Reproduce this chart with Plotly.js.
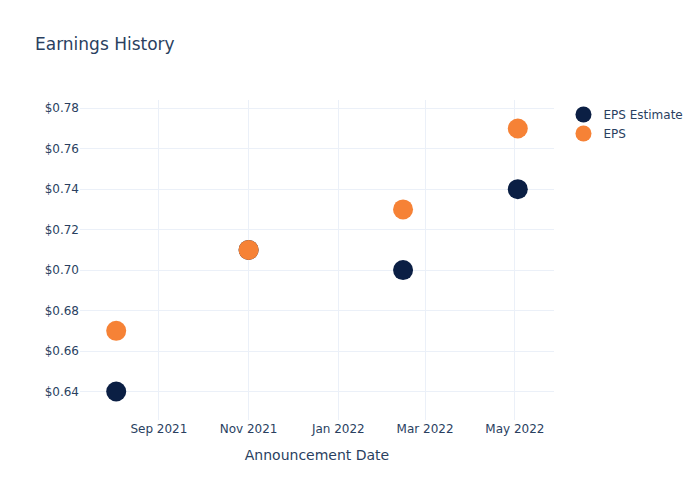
<!DOCTYPE html>
<html>
<head>
<meta charset="utf-8">
<script src="https://cdn.plot.ly/plotly-3.0.1.min.js"></script>
<style>html,body{margin:0;padding:0;}#chart{width:700px;height:500px;}</style>
</head>
<body>
<div id="chart"></div>
<script>
const dates = ["2021-08-03", "2021-11-01", "2022-02-14", "2022-05-03"];
const epsEstimate = [0.64, 0.71, 0.70, 0.74];
const epsActual = [0.67, 0.71, 0.73, 0.77];
const seriesNames = ["EPS Estimate", "EPS"];
const seriesColors = ["#0b1f44", "#f68236"];

const data = [
  {x: dates, y: epsEstimate, name: seriesNames[0], type: "scatter", mode: "markers",
   marker: {size: 20, color: seriesColors[0]}},
  {x: dates, y: epsActual, name: seriesNames[1], type: "scatter", mode: "markers",
   marker: {size: 20, color: seriesColors[1]}}
];
const layout = {
  width: 700, height: 500,
  template: "plotly_white",
  title: {text: "Earnings History", x: 0.05, xanchor: "left"},
  xaxis: {title: {text: "Announcement Date", standoff: 15}, automargin: true, type: "date", gridcolor: "#EBF0F8"},
  yaxis: {tickformat: "$.2f", gridcolor: "#EBF0F8", zeroline: false, automargin: true},
  margin: {l: 80, r: 80, t: 100, b: 80},
  plot_bgcolor: "white", paper_bgcolor: "white",
  font: {family: "DejaVu Sans, Verdana, sans-serif", color: "#2a3f5f"}
};
Plotly.newPlot("chart", data, layout, {displayModeBar: false});
</script>
</body>
</html>
